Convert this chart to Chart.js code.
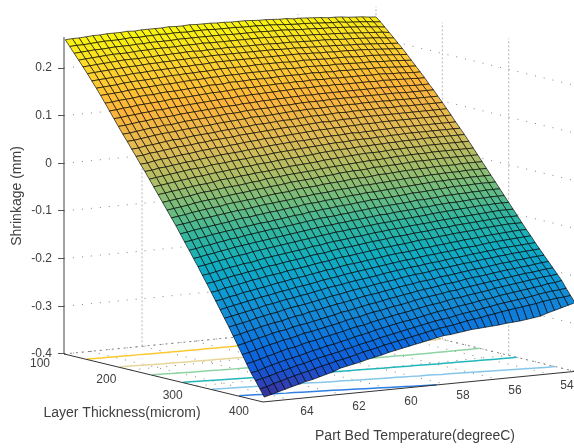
<!DOCTYPE html>
<html>
<head>
<meta charset="utf-8">
<script src="https://cdn.jsdelivr.net/npm/chart.js@4"></script>
<style>
  html, body { margin: 0; background: #fff; }
  #box { width: 574px; height: 448px; }
</style>
</head>
<body>
<div id="box"><canvas id="chart-1" width="574" height="448"></canvas></div>
<script>
var tempTicks = [64, 62, 60, 58, 56, 54];
var thickTicks = [100, 200, 300, 400];
var shrinkTicks = [0.2, 0.1, 0, -0.1, -0.2, -0.3, -0.4];
var contourLevels = [200, 100, 0, -100, -200, -300];
var contourColors = ["#fcc933", "#e6d699", "#8fd3a5", "#22b6ba", "#86c6ea", "#2d7fe2"];

// mesh columns, degreeC
var temps = [64.95,64.68,64.42,64.15,63.89,63.62,63.36,63.09,62.83,62.56,
  62.29,62.03,61.76,61.50,61.23,60.97,60.70,60.43,60.17,59.90,
  59.64,59.37,59.11,58.84,58.57,58.31,58.04,57.78,57.51,57.25,
  56.98,56.71,56.45,56.18,55.92,55.65,55.39,55.12,54.85,54.59,
  54.32,54.06,53.79,53.53,53.26,53];
// mesh rows, microm
var thicks = [100,106.7,113.3,120,126.7,133.3,140,146.7,153.3,160,
  166.7,173.3,180,186.7,193.3,200,206.7,213.3,220,226.7,
  233.3,240,246.7,253.3,260,266.7,273.3,280,286.7,293.3,
  300,306.7,313.3,320,326.7,333.3,340,346.7,353.3,360,
  366.7,373.3,380,386.7,393.3,400];

var shrink = [
[259,260,260,261,262,262,263,263,263,264,263,264,264,264,264,265,264,264,265,264,264,264,263,263,262,262,262,261,260,260,259,258,258,256,256,255,254,253,251,251,250,248,247,246,244,243],
[247,248,248,249,250,251,251,251,252,253,252,253,253,254,253,254,254,253,254,254,254,253,253,253,253,252,252,252,251,251,250,249,248,247,247,246,245,244,243,243,241,240,239,238,236,235],
[235,236,237,238,238,239,240,240,240,241,241,242,242,242,242,243,243,243,243,243,243,243,243,242,242,242,242,242,241,241,241,240,239,238,238,237,236,236,235,234,233,232,231,229,228,226],
[223,224,225,226,227,228,228,228,229,230,230,231,231,231,231,232,232,232,233,232,232,232,232,232,232,232,232,232,231,231,230,230,229,228,228,227,226,226,225,224,223,222,221,220,219,217],
[211,212,213,214,215,216,217,217,217,218,218,219,219,220,220,221,221,220,221,221,221,222,221,221,221,221,221,221,220,220,220,219,219,218,218,218,217,216,215,215,214,213,212,211,209,208],
[199,200,201,202,203,204,205,205,206,207,207,208,208,209,209,210,210,210,211,211,211,211,211,211,211,211,211,211,210,210,210,209,209,208,208,207,207,206,205,205,204,203,202,201,200,199],
[186,187,188,189,190,191,193,193,194,195,195,196,196,197,197,198,198,199,200,200,200,200,200,200,200,200,200,200,200,200,200,199,199,198,198,197,197,197,196,196,195,194,193,192,191,190],
[173,174,175,176,178,179,180,180,181,182,183,184,184,185,185,186,186,187,188,188,188,188,188,189,189,189,189,189,188,188,189,188,188,187,187,187,187,186,185,185,185,184,183,182,181,180],
[160,161,162,163,165,166,167,168,169,170,170,171,172,173,173,174,175,175,176,176,176,177,177,177,177,177,178,178,177,177,178,177,177,176,177,176,176,175,175,175,174,173,173,172,171,170],
[146,147,149,150,151,153,154,154,156,157,157,158,159,160,160,162,162,162,164,164,164,165,165,165,165,166,166,166,166,166,167,166,166,165,166,165,165,165,164,164,164,163,162,161,161,160],
[132,133,135,136,138,139,140,141,142,144,144,145,146,147,148,149,149,150,151,152,152,152,153,153,154,154,154,155,154,155,155,154,155,154,154,154,154,154,153,154,153,152,152,151,150,150],
[118,119,121,122,124,125,127,127,129,130,131,132,133,134,135,136,137,137,139,139,140,140,141,141,142,142,143,143,143,143,144,143,144,143,143,143,143,143,142,143,142,142,141,141,140,140],
[104,105,107,109,110,112,113,114,115,117,118,119,120,121,122,123,124,124,126,126,127,128,128,129,129,130,130,131,130,131,131,131,131,131,131,131,131,131,131,131,130,130,130,129,129,129],
[90,91,93,95,97,98,100,100,102,104,105,106,107,108,109,111,111,112,114,114,115,115,116,117,117,118,119,119,119,119,120,120,120,120,120,120,120,120,120,120,120,119,119,119,119,119],
[77,78,80,82,84,86,87,88,90,91,92,93,94,96,97,98,99,100,102,102,102,103,104,105,106,106,107,107,107,108,108,108,109,108,109,109,109,109,108,109,108,108,108,108,108,108],
[63,64,67,68,70,72,74,74,76,78,79,80,81,83,84,85,86,87,89,89,90,91,92,92,93,94,95,95,95,96,97,96,97,97,97,97,98,97,97,98,97,97,97,97,97,97],
[50,51,54,55,57,59,61,62,63,65,66,68,69,70,71,73,74,75,76,77,78,79,80,80,81,82,83,84,83,84,85,85,85,86,86,86,86,86,86,86,86,86,86,86,86,86],
[36,37,40,42,43,45,47,48,50,52,53,55,55,57,58,60,61,62,64,64,65,66,67,68,69,70,71,71,72,72,73,73,74,74,74,75,75,75,75,75,75,75,75,75,75,75],
[23,24,27,28,30,32,34,35,37,39,40,42,43,44,45,47,48,49,51,52,53,54,55,55,56,57,58,59,59,60,61,60,61,61,62,62,63,63,63,63,63,63,63,63,63,63],
[9,11,13,15,17,19,21,22,23,26,27,28,30,31,32,34,35,36,38,39,40,41,42,43,44,45,46,47,47,48,49,49,49,50,50,51,51,52,52,52,52,52,52,52,52,52],
[-5,-3,-1,1,3,5,7,8,10,12,13,15,16,18,19,21,22,23,25,26,27,28,29,30,32,33,34,35,35,36,37,37,38,38,39,39,40,40,40,41,41,41,41,41,41,41],
[-19,-17,-15,-13,-11,-9,-7,-6,-4,-1,0,1,3,4,6,7,8,10,11,13,14,15,16,17,19,20,21,22,23,24,25,25,25,26,27,27,28,28,28,29,29,29,29,29,29,29],
[-33,-31,-29,-27,-25,-22,-20,-19,-17,-15,-14,-13,-11,-9,-8,-5,-4,-3,-1,0,1,2,3,5,6,7,8,9,10,11,12,12,13,14,15,15,16,16,16,17,17,17,17,17,17,17],
[-47,-45,-43,-41,-38,-36,-34,-33,-31,-29,-27,-26,-24,-22,-21,-19,-18,-16,-14,-13,-12,-11,-9,-8,-7,-5,-4,-3,-3,-2,0,0,1,1,2,3,4,4,4,5,5,5,5,5,5,5],
[-61,-59,-57,-54,-52,-50,-48,-47,-44,-42,-41,-39,-38,-36,-34,-32,-31,-30,-27,-26,-25,-24,-22,-21,-20,-19,-17,-16,-16,-15,-13,-13,-12,-11,-10,-10,-9,-9,-8,-8,-8,-8,-7,-7,-7,-7],
[-75,-73,-71,-68,-66,-64,-62,-60,-58,-56,-55,-53,-51,-49,-48,-46,-45,-43,-41,-40,-38,-37,-36,-34,-33,-32,-31,-29,-29,-28,-27,-26,-25,-24,-23,-23,-22,-21,-21,-20,-20,-20,-19,-19,-19,-19],
[-90,-88,-85,-83,-81,-79,-77,-75,-72,-70,-69,-67,-65,-63,-62,-60,-58,-57,-54,-53,-52,-50,-49,-48,-46,-45,-44,-42,-42,-41,-40,-39,-38,-37,-36,-35,-34,-33,-33,-32,-32,-32,-31,-31,-31,-31],
[-105,-103,-100,-98,-95,-93,-91,-89,-87,-85,-83,-81,-80,-78,-76,-74,-72,-71,-68,-67,-65,-64,-62,-61,-60,-58,-57,-55,-55,-54,-53,-52,-51,-49,-49,-48,-47,-46,-45,-44,-44,-44,-43,-43,-43,-43],
[-120,-118,-115,-113,-110,-108,-105,-104,-101,-99,-97,-95,-93,-92,-90,-88,-86,-84,-82,-80,-79,-78,-76,-75,-73,-72,-70,-69,-68,-67,-66,-65,-64,-62,-62,-61,-60,-58,-58,-57,-57,-56,-56,-55,-55,-55],
[-135,-133,-130,-128,-125,-123,-120,-118,-116,-114,-112,-110,-108,-106,-104,-102,-100,-98,-96,-94,-93,-91,-90,-88,-87,-85,-84,-82,-82,-80,-79,-78,-77,-75,-75,-73,-72,-71,-71,-70,-69,-68,-68,-67,-67,-67],
[-150,-148,-145,-142,-140,-137,-135,-133,-130,-128,-126,-124,-122,-120,-118,-116,-114,-112,-110,-108,-106,-105,-103,-102,-100,-99,-97,-96,-95,-93,-92,-91,-90,-89,-87,-86,-85,-84,-83,-82,-81,-80,-80,-79,-79,-79],
[-166,-164,-161,-158,-155,-153,-150,-149,-146,-143,-141,-139,-137,-135,-133,-131,-128,-127,-124,-122,-121,-119,-117,-116,-114,-112,-111,-109,-108,-107,-105,-104,-103,-102,-100,-99,-98,-97,-96,-95,-94,-93,-92,-91,-91,-91],
[-181,-179,-176,-173,-170,-168,-165,-163,-160,-157,-156,-153,-151,-149,-147,-144,-142,-141,-138,-136,-134,-133,-131,-129,-127,-126,-124,-122,-121,-120,-118,-117,-116,-114,-113,-112,-110,-109,-108,-107,-106,-105,-104,-103,-103,-103],
[-197,-195,-191,-189,-186,-183,-180,-178,-175,-173,-171,-168,-166,-164,-162,-159,-157,-155,-152,-150,-149,-147,-145,-143,-141,-139,-138,-136,-135,-133,-131,-130,-129,-127,-126,-124,-123,-122,-121,-119,-118,-117,-116,-115,-115,-115],
[-213,-211,-207,-205,-201,-199,-196,-194,-191,-188,-186,-183,-181,-179,-176,-174,-171,-170,-167,-164,-163,-161,-159,-157,-155,-153,-151,-150,-149,-147,-145,-144,-142,-141,-139,-138,-136,-135,-134,-132,-131,-130,-129,-128,-127,-127],
[-229,-226,-223,-220,-217,-214,-211,-209,-206,-203,-201,-198,-196,-194,-191,-188,-186,-184,-181,-179,-177,-175,-173,-171,-169,-167,-165,-163,-162,-160,-158,-157,-155,-154,-152,-150,-149,-148,-146,-144,-143,-142,-141,-140,-139,-138],
[-245,-242,-239,-236,-233,-230,-226,-224,-221,-218,-216,-213,-211,-208,-205,-202,-200,-198,-195,-193,-191,-189,-187,-184,-182,-180,-178,-176,-175,-173,-171,-170,-168,-166,-165,-163,-161,-160,-158,-157,-155,-154,-153,-152,-151,-150],
[-261,-258,-255,-252,-248,-245,-242,-240,-236,-233,-231,-229,-226,-223,-220,-217,-215,-212,-209,-207,-205,-202,-200,-198,-196,-193,-191,-189,-188,-186,-183,-182,-180,-178,-176,-175,-173,-171,-170,-168,-167,-165,-164,-163,-162,-161],
[-278,-275,-271,-268,-264,-261,-258,-256,-252,-249,-247,-243,-241,-238,-235,-232,-230,-227,-224,-221,-219,-217,-214,-212,-209,-207,-205,-202,-201,-199,-196,-195,-193,-191,-189,-187,-186,-184,-182,-180,-179,-177,-176,-174,-173,-172],
[-295,-292,-288,-284,-281,-277,-274,-272,-268,-265,-263,-260,-257,-254,-251,-247,-245,-242,-239,-236,-234,-231,-228,-226,-223,-221,-218,-216,-214,-212,-209,-208,-206,-203,-201,-200,-198,-196,-194,-192,-191,-189,-188,-186,-184,-183],
[-312,-309,-305,-301,-297,-294,-290,-288,-284,-280,-278,-275,-272,-269,-266,-262,-259,-257,-253,-250,-248,-245,-242,-240,-237,-234,-231,-229,-227,-225,-222,-221,-218,-216,-214,-212,-210,-208,-206,-204,-202,-200,-199,-197,-195,-194],
[-329,-326,-322,-318,-314,-310,-306,-304,-300,-296,-294,-290,-287,-284,-281,-277,-274,-272,-268,-265,-262,-259,-256,-254,-251,-248,-245,-243,-241,-238,-235,-234,-231,-229,-227,-225,-222,-220,-218,-216,-214,-212,-210,-208,-207,-205],
[-346,-343,-338,-334,-330,-326,-323,-320,-316,-312,-309,-305,-303,-299,-296,-292,-289,-286,-282,-279,-276,-273,-270,-268,-265,-262,-259,-256,-254,-252,-249,-247,-245,-242,-240,-238,-235,-233,-231,-229,-227,-225,-223,-220,-219,-216],
[-360,-357,-353,-349,-345,-341,-337,-334,-330,-326,-323,-320,-317,-313,-310,-306,-303,-300,-296,-293,-290,-287,-284,-281,-278,-275,-272,-270,-268,-265,-262,-260,-258,-255,-253,-250,-248,-246,-244,-242,-240,-237,-235,-233,-232,-230],
[-375,-372,-367,-363,-359,-355,-351,-348,-344,-340,-337,-333,-330,-327,-323,-319,-316,-313,-309,-306,-303,-300,-297,-294,-291,-288,-285,-283,-281,-278,-275,-273,-271,-268,-266,-263,-261,-259,-257,-255,-253,-250,-248,-246,-245,-243],
[-390,-386,-382,-378,-374,-370,-366,-363,-359,-355,-351,-345,-342,-339,-336,-332,-329,-326,-322,-319,-316,-313,-310,-307,-304,-301,-298,-297,-295,-293,-291,-290,-289,-288,-287,-285,-284,-283,-281,-279,-277,-272,-268,-264,-260,-256]
];

// colours from the bottom of the surface to the top
var colorZ = [-390,-370,-340,-300,-250,-200,-150,-100,-50,0,60,130,200,265];
var colorHex = ["#352a87","#3040b4","#1259d8","#0a6fdf","#1488d6","#0e9cd4","#10aec0","#2fb5a0","#6dbd80","#a8bd66","#e0bb55","#fdb43a","#fdd22f","#f8f80c"];

function hexRgb(h) {
  return [parseInt(h.substr(1, 2), 16), parseInt(h.substr(3, 2), 16), parseInt(h.substr(5, 2), 16)];
}

function colorFor(z) {
  var k = 0;
  while (k < colorZ.length - 2 && z > colorZ[k + 1]) k++;
  var t = Math.max(0, Math.min(1, (z - colorZ[k]) / (colorZ[k + 1] - colorZ[k])));
  var a = hexRgb(colorHex[k]), b = hexRgb(colorHex[k + 1]);
  return "rgb(" + [0, 1, 2].map(function (n) { return Math.round(a[n] + (b[n] - a[n]) * t); }).join(",") + ")";
}

// view of the box: screen x and the shrinkage scale both shift with temperature and thickness
function project(temp, thick, z) {
  return {
    x: 64 + (thick - 100) * 0.6633 + (65 - temp) * 26,
    y: z - ((thick - 100) * 0.16 - (65 - temp) * 2.55) / 476.5
  };
}

var datasets = [];

function addLine(pts, color, width, dash) {
  datasets.push({
    data: pts, borderColor: color, borderWidth: width, borderDash: dash || [],
    fill: false, pointRadius: 0, tension: 0, clip: false
  });
}

// axis lines sit on top of everything
addLine([project(65, 100, -0.4), project(65, 400, -0.4), project(53, 400, -0.4)], "#333333", 1);
addLine([project(65, 100, -0.4), project(65, 100, 0.265)], "#444444", 1);

// surface, nearest cell first because chart.js paints the first dataset last
for (var i = thicks.length - 2; i >= 0; i--) {
  for (var j = 0; j < temps.length - 1; j++) {
    var zs = [shrink[i][j], shrink[i][j + 1], shrink[i + 1][j + 1], shrink[i + 1][j]];
    var mean = (zs[0] + zs[1] + zs[2] + zs[3]) / 4;
    datasets.push({
      data: [
        project(temps[j], thicks[i], zs[0] / 1000),
        project(temps[j + 1], thicks[i], zs[1] / 1000),
        project(temps[j + 1], thicks[i + 1], zs[2] / 1000),
        project(temps[j], thicks[i + 1], zs[3] / 1000),
        project(temps[j], thicks[i], zs[0] / 1000)
      ],
      backgroundColor: colorFor(mean),
      borderColor: "rgba(0,0,0,0.72)",
      borderWidth: 0.9,
      fill: "shape",
      pointRadius: 0,
      tension: 0
    });
  }
}

// contours on the floor, taken from the same mesh values
contourLevels.forEach(function (level, n) {
  var pts = [];
  for (var j = 0; j < temps.length; j++) {
    for (var i = 0; i < thicks.length - 1; i++) {
      var a = shrink[i][j], b = shrink[i + 1][j];
      if (a >= level && b < level) {
        pts.push(project(temps[j], thicks[i] + (thicks[i + 1] - thicks[i]) * (a - level) / (a - b), -0.4));
        break;
      }
    }
  }
  addLine(pts, contourColors[n], 1.5);
});

// box grid, sparse like the original dotted lines
var dots = [1, 8], wallDots = [2, 2];
shrinkTicks.forEach(function (z) {
  addLine([project(65, 100, z), project(53, 100, z), project(53, 400, z)], "#808080", 1, dots);
});
[62, 56].forEach(function (t) {
  addLine([project(t, 100, -0.4), project(t, 100, 0.265)], "#b5b5b5", 1, wallDots);
});
[64, 62, 60, 58, 56, 54].forEach(function (t) {
  addLine([project(t, 100, -0.4), project(t, 400, -0.4)], "#808080", 1, dots);
});
[200, 300].forEach(function (th) {
  addLine([project(53, th, -0.4), project(53, th, 0.265)], "#b5b5b5", 1, wallDots);
  addLine([project(65, th, -0.4), project(53, th, -0.4)], "#808080", 1, dots);
});
addLine([project(53, 100, -0.4), project(53, 100, 0.265)], "#b5b5b5", 1, wallDots);
addLine([project(65, 100, -0.4), project(53, 100, -0.4), project(53, 400, -0.4)], "#808080", 1, [2, 4]);

var boxText = {
  id: "boxText",
  afterDraw: function (chart) {
    var ctx = chart.ctx, sx = chart.scales.x, sy = chart.scales.y;
    function px(p) { return [sx.getPixelForValue(p.x), sy.getPixelForValue(p.y)]; }
    ctx.save();
    ctx.fillStyle = "#404040";
    ctx.textAlign = "center";
    ctx.textBaseline = "middle";
    ctx.font = "12px 'Liberation Sans'";
    thickTicks.forEach(function (th) {
      var p = px(project(65, th, -0.4));
      ctx.fillText(th, p[0] - 24, p[1] + 10);
    });
    tempTicks.forEach(function (t) {
      var p = px(project(t, 400, -0.4));
      ctx.fillText(t, p[0] + 18, p[1] + 12);
    });
    ctx.font = "14px 'Liberation Sans'";
    ctx.fillText("Layer Thickness(microm)", 122, 413);
    ctx.fillText("Part Bed Temperature(degreeC)", 415, 436);
    ctx.translate(17, 196);
    ctx.rotate(-Math.PI / 2);
    ctx.fillText("Shrinkage (mm)", 0, 0);
    ctx.restore();
  }
};

new Chart("chart-1", {
  type: "line",
  data: { datasets: datasets },
  plugins: [boxText],
  options: {
    responsive: false,
    animation: false,
    events: [],
    layout: { padding: 0 },
    plugins: { legend: { display: false }, tooltip: { enabled: false } },
    scales: {
      x: { type: "linear", min: 64, max: 574, display: false },
      y: {
        type: "linear",
        min: -0.5973,
        max: 0.3427,
        afterFit: function (scale) {
          scale.width = 64;
          scale.paddingTop = 0;
          scale.paddingBottom = 0;
        },
        afterBuildTicks: function (scale) {
          scale.ticks = shrinkTicks.map(function (v) { return { value: v }; });
        },
        border: { display: false },
        grid: { drawOnChartArea: false, tickLength: 6, color: "#555555" },
        ticks: {
          padding: 6,
          autoSkip: false,
          color: "#404040",
          font: { family: "'Liberation Sans'", size: 12 },
          callback: function (v) { return String(v); }
        }
      }
    }
  }
});
</script>
</body>
</html>
